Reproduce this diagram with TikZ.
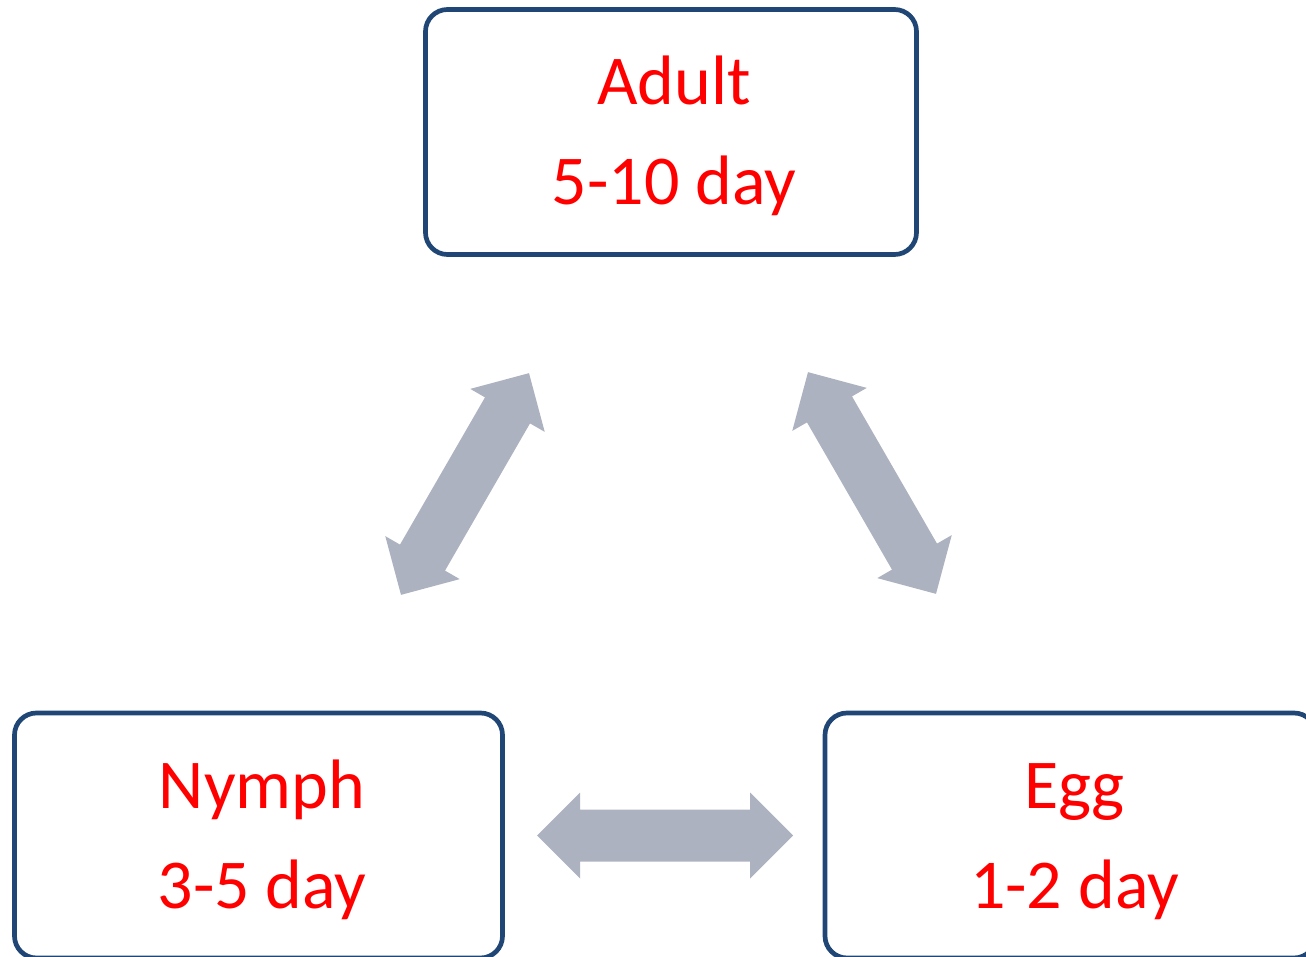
\documentclass[tikz,border=0pt]{standalone}
\usepackage{fontspec}
\setmainfont{Carlito}
\definecolor{boxblue}{HTML}{1F4674}
\definecolor{arrowgray}{HTML}{ADB2C0}
\definecolor{stagered}{HTML}{FF0000}
\tikzset{
  stagebox/.style={draw=boxblue, line width=4.7pt, rounded corners=22pt,
    minimum width=491pt, minimum height=245pt, inner sep=0pt},
  stagetext/.style={text=stagered, anchor=base, inner sep=0pt,
    font=\fontsize{70}{84}\selectfont},
  blockarrow/.pic={
    \fill[arrowgray] (-128,0) -- (-85,43) -- (-85,26) -- (85,26) -- (85,43)
      -- (128,0) -- (85,-43) -- (85,-26) -- (-85,-26) -- (-85,-43) -- cycle;
  }
}
\begin{document}
\begin{tikzpicture}[x=1pt,y=1pt]
  \useasboundingbox (0,0) rectangle (1306,-957);
  \clip (0,0) rectangle (1306,-957);

  % life-cycle stages
  \node[stagebox] (adult) at (671,-132) {};
  \node[stagebox, minimum width=488pt] (nymph) at (258.5,-835.5) {};
  \node[stagebox] (egg) at (1070.5,-835.5) {};

  \node[stagetext] (adultname) at ([xshift=3pt,yshift=27pt]adult.center) {Adult};
  \node[stagetext] (adultdays) at ([xshift=3pt,yshift=-73pt]adult.center) {5-10 day};
  \node[stagetext] (nymphname) at ([xshift=3.5pt,yshift=27.5pt]nymph.center) {Nymph};
  \node[stagetext] (nymphdays) at ([xshift=3.5pt,yshift=-72.5pt]nymph.center) {3-5 day};
  \node[stagetext] (eggname) at ([xshift=4pt,yshift=27.5pt]egg.center) {Egg};
  \node[stagetext] (eggdays) at ([xshift=4pt,yshift=-72.5pt]egg.center) {1-2 day};

  % two-way transitions between stages
  \coordinate (nymphadult) at (465,-484);
  \coordinate (adultegg) at (872,-483);
  \coordinate (nymphegg) at (665,-835.5);
  \pic[rotate=60] (nymphadultarrow) at (nymphadult) {blockarrow};
  \pic[rotate=-60] (adulteggarrow) at (adultegg) {blockarrow};
  \pic (nymphegggarrow) at (nymphegg) {blockarrow};
\end{tikzpicture}
\end{document}
